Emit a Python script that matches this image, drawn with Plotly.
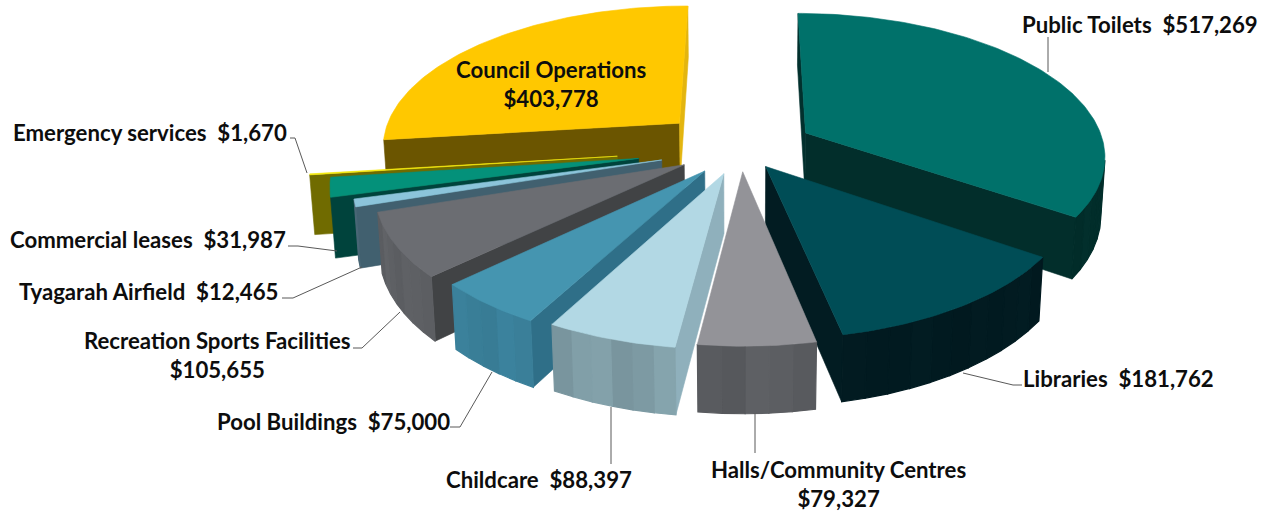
import numpy as np
import plotly.graph_objects as go

# Building maintenance budget by category
categories = ["Public Toilets", "Libraries", "Halls/Community Centres", "Childcare",
              "Pool Buildings", "Recreation Sports Facilities", "Tyagarah Airfield",
              "Commercial leases", "Emergency services", "Council Operations"]
values = [517269, 181762, 79327, 88397, 75000, 105655, 12465, 31987, 1670, 403778]

# How far each slice is pulled out of the pie, as a fraction of the radius
pull = [0.248, 0.147, 0.158, 0.180, 0.193, 0.216, 0.272, 0.344, 0.412, 0.281]

top_colors = ["#00716A", "#004D56", "#939398", "#B2D8E4", "#4595B0",
              "#6B6D72", "#8CC4DA", "#04917A", "#F5EA10", "#FFC800"]
rim_colors = ["#022E2B", "#021B21", "#5B5D61", "#7F9CA5", "#3A7F99",
              "#5E6064", "#4A6878", "#00433C", "#E6DC10", "#6B5500"]
start_cut_colors = ["#02302D", "#021B21", "#4A4C50", "#8FB0BC", "#2F6F88",
                    "#414345", "#41606F", "#00433C", "#706B00", "#6B5500"]
end_cut_colors = ["#022E2B", "#021C22", "#5B5D61", "#8FB0BC", "#2F6F88",
                  "#414345", "#41606F", "#00433C", "#706B00", "#E3B50F"]

# Camera for the tilted pie
CX, CY, FOCAL, DIST, TILT, THICK, ROT, STRETCH = (
    740.81, 148.90, 2214.0, 6.246, 0.4104, 0.182, 0.0025, 0.8456)
BAND_STEP = np.radians(4.0)


def project(x, y, z):
    up = y * np.sin(TILT) + z * np.cos(TILT)
    d = DIST + y * np.cos(TILT) - z * np.sin(TILT)
    return CX + STRETCH * FOCAL * x / d, CY - FOCAL * up / d


def faces_camera(nx, ny, px, py, pz):
    cam_y, cam_z = -DIST * np.cos(TILT), DIST * np.sin(TILT)
    return nx * (0 - px) + ny * (cam_y - py) > 0


def shade(color, k):
    rgb = [int(color[i:i + 2], 16) for i in (1, 3, 5)]
    return "rgb({},{},{})".format(*[int(min(255, c * k)) for c in rgb])


def polygon(fig, xs, ys, color, width=0.6):
    fig.add_trace(go.Scatter(x=np.r_[xs, xs[0]], y=np.r_[ys, ys[0]], mode="lines",
                             fill="toself", fillcolor=color,
                             line=dict(color=color, width=width),
                             hoverinfo="skip", showlegend=False))


def wedge(fig, i, a0, a1):
    mid = (a0 + a1) / 2
    ox, oy = pull[i] * np.sin(mid), pull[i] * np.cos(mid)

    # Radial cut faces
    for a, nx, ny, col in ((a0, -np.cos(a0), np.sin(a0), start_cut_colors[i]),
                           (a1, np.cos(a1), -np.sin(a1), end_cut_colors[i])):
        if faces_camera(nx, ny, ox, oy, 0):
            ex, ey = ox + np.sin(a), oy + np.cos(a)
            sx, sy = project(np.array([ox, ex, ex, ox]), np.array([oy, ey, ey, oy]),
                             np.array([0, 0, -THICK, -THICK]))
            polygon(fig, sx, sy, col)

    # Outer wall, drawn in narrow bands
    n = max(1, int(np.ceil((a1 - a0) / BAND_STEP)))
    edges = np.linspace(a0, a1, n + 1)
    for b0, b1 in zip(edges[:-1], edges[1:]):
        m = (b0 + b1) / 2
        if not faces_camera(np.sin(m), np.cos(m), ox + np.sin(m), oy + np.cos(m), 0):
            continue
        t = np.linspace(b0, b1, 4)
        rx, ry = ox + np.sin(t), oy + np.cos(t)
        sx, sy = project(np.r_[rx, rx[::-1]], np.r_[ry, ry[::-1]],
                         np.r_[np.zeros(4), -THICK * np.ones(4)])
        k = 1 + 0.035 * np.sin(m * 31) + 0.02 * np.sin(m * 73)
        polygon(fig, sx, sy, shade(rim_colors[i], k), width=1.2)

    # Top face
    t = np.linspace(a0, a1, max(3, int((a1 - a0) * 60)))
    rx = np.r_[ox, ox + np.sin(t)]
    ry = np.r_[oy, oy + np.cos(t)]
    sx, sy = project(rx, ry, np.zeros_like(rx))
    polygon(fig, sx, sy, top_colors[i])


fig = go.Figure()
angles = np.cumsum([0] + values) / sum(values) * 2 * np.pi + ROT
mids = (angles[:-1] + angles[1:]) / 2

# Paint from the back of the pie towards the viewer
for i in np.argsort(-np.cos(mids)):
    wedge(fig, int(i), angles[i], angles[i + 1])


def money(v):
    return "${:,}".format(v)


SP = "\u00a0\u00a0"
label_text = [
    categories[0] + SP + money(values[0]),
    categories[1] + SP + money(values[1]),
    categories[2] + "<br>" + money(values[2]),
    categories[3] + SP + money(values[3]),
    categories[4] + SP + money(values[4]),
    categories[5] + "<br>" + money(values[5]),
    categories[6] + SP + money(values[6]),
    categories[7] + SP + money(values[7]),
    categories[8] + SP + money(values[8]),
    categories[9] + "<br>" + money(values[9]),
]
label_pos = [(1140, 24), (1118, 378), (838, 484), (539, 479), (333, 421),
             (217, 355), (148, 291), (148, 239), (150, 132), (551, 84)]
for text, (x, y) in zip(label_text, label_pos):
    fig.add_annotation(x=x, y=y, text="<b>" + text.replace("<br>", "</b><br><b>") + "</b>",
                       showarrow=False, xanchor="center", yanchor="middle", align="center",
                       font=dict(family="Lato", size=22.2, color="#0D0D0D"))

leaders = [
    [(1048, 37), (1048, 72)],
    [(1022, 385), (1013, 385), (963, 373)],
    [(755, 413), (755, 453)],
    [(611, 407), (611, 464)],
    [(450, 427), (460, 427), (492, 372)],
    [(353, 348), (362, 348), (400, 312)],
    [(282, 298), (293, 298), (362, 267)],
    [(288, 246), (298, 246), (337, 251)],
    [(290, 138), (295, 138), (307, 173)],
]
for pts in leaders:
    path = "M" + " L".join("{} {}".format(*p) for p in pts)
    fig.add_shape(type="path", path=path, xref="x", yref="y",
                  line=dict(color="#595959", width=1))

fig.update_layout(
    width=1270, height=514, margin=dict(l=0, r=0, t=0, b=0),
    paper_bgcolor="white", plot_bgcolor="white", showlegend=False,
    xaxis=dict(range=[0, 1270], visible=False, fixedrange=True),
    yaxis=dict(range=[514, 0], visible=False, fixedrange=True),
)
fig.write_html("out.html", config={"displayModeBar": False})
